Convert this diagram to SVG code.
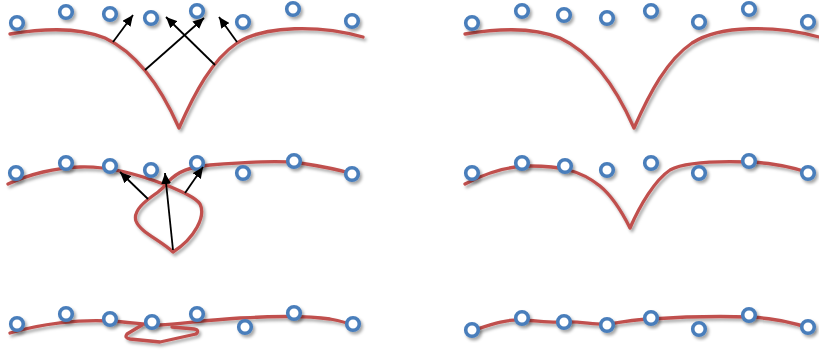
<svg xmlns="http://www.w3.org/2000/svg" width="819" height="350" viewBox="0 0 819 350">
<defs>
<filter id="sh" x="-50%" y="-50%" width="200%" height="200%">
<feDropShadow dx="2" dy="2.5" stdDeviation="1.6" flood-color="#000" flood-opacity="0.35"/>
</filter>
<marker id="ah" markerUnits="userSpaceOnUse" markerWidth="13" markerHeight="10" refX="11" refY="5" orient="auto">
<path d="M0,0 L11,5 L0,10 z" fill="#000"/>
</marker>
<style>
.pt{fill:#fff;stroke:#4a7ebb;stroke-width:3.6;filter:url(#sh)}
.cv{fill:none;stroke:#c0504d;stroke-width:3.3;stroke-linejoin:round;stroke-linecap:round;filter:url(#sh)}
.ar{fill:none;stroke:#000;stroke-width:1.8;marker-end:url(#ah)}
</style>
</defs>
<rect width="819" height="350" fill="#fff"/>

<g id="top-left">
<path class="cv" d="M10,34 C40,29 75,26 105,38 C135,52 160,85 179,128 C195,92 212,60 237,43 C265,25 320,25 363,37"/>
<g id="top-left-points">
<circle class="pt" cx="17" cy="23" r="6.3"/>
<circle class="pt" cx="66" cy="12" r="6.3"/>
<circle class="pt" cx="110" cy="14" r="6.3"/>
<circle class="pt" cx="151" cy="18" r="6.3"/>
<circle class="pt" cx="197" cy="11" r="6.3"/>
<circle class="pt" cx="243" cy="22" r="6.3"/>
<circle class="pt" cx="293" cy="9" r="6.3"/>
<circle class="pt" cx="352" cy="21" r="6.3"/>
</g>
<g id="top-left-arrows">
<line class="ar" x1="113" y1="42" x2="133" y2="15"/>
<line class="ar" x1="145" y1="70" x2="204" y2="18"/>
<line class="ar" x1="215" y1="65" x2="166" y2="17"/>
<line class="ar" x1="237" y1="42" x2="219" y2="17"/>
</g>
</g>

<g id="top-right">
<path class="cv" d="M465,34 C495,29 530,26 560,38 C590,52 615,85 634,128 C650,92 667,60 692,43 C720,25 775,25 819,37"/>
<circle class="pt" cx="472" cy="23" r="6.3"/>
<circle class="pt" cx="522" cy="11" r="6.3"/>
<circle class="pt" cx="564" cy="15" r="6.3"/>
<circle class="pt" cx="607" cy="18" r="6.3"/>
<circle class="pt" cx="651" cy="11" r="6.3"/>
<circle class="pt" cx="699" cy="22" r="6.3"/>
<circle class="pt" cx="749" cy="9" r="6.3"/>
<circle class="pt" cx="808" cy="22" r="6.3"/>
</g>

<g id="middle-left">
<path class="cv" d="M8,184 C30,174 55,168 80,167 C110,166 140,175 166,185 C180,191 195,197 200,204 C206,216 195,238 173,252 C160,240 140,232 136,221 C132,209 150,198 158,192 C162,189 165,186 168,182 C178,171 190,167 210,165 C245,162 280,160 300,163 C320,166 340,170 353,174"/>
<circle class="pt" cx="16" cy="173" r="6.3"/>
<circle class="pt" cx="66" cy="163" r="6.3"/>
<circle class="pt" cx="110" cy="166" r="6.3"/>
<circle class="pt" cx="151" cy="170" r="6.3"/>
<circle class="pt" cx="197" cy="163" r="6.3"/>
<circle class="pt" cx="243" cy="173" r="6.3"/>
<circle class="pt" cx="294" cy="161" r="6.3"/>
<circle class="pt" cx="352" cy="174" r="6.3"/>
<line class="ar" x1="148" y1="199" x2="120" y2="172"/>
<line class="ar" x1="173" y1="250" x2="165" y2="173"/>
<line class="ar" x1="185" y1="193" x2="203" y2="167"/>
</g>

<g id="middle-right">
<path class="cv" d="M465,184 C490,171 510,166 530,166 C560,166 580,170 600,186 C612,196 622,212 630,228 C640,205 655,180 670,170 C685,162 720,161 749,162 C775,163 795,168 810,173"/>
<circle class="pt" cx="472" cy="173" r="6.3"/>
<circle class="pt" cx="522" cy="163" r="6.3"/>
<circle class="pt" cx="565" cy="166" r="6.3"/>
<circle class="pt" cx="607" cy="170" r="6.3"/>
<circle class="pt" cx="651" cy="163" r="6.3"/>
<circle class="pt" cx="699" cy="173" r="6.3"/>
<circle class="pt" cx="749" cy="161" r="6.3"/>
<circle class="pt" cx="808" cy="173" r="6.3"/>
</g>

<g id="bottom-left">
<path class="cv" d="M10,333 C40,324 80,319 110,321 C130,322 145,325 160,325 C180,324 205,320 240,318 C275,316 310,316 330,319 C340,321 348,323 353,325"/>
<path class="cv" d="M142,325 L127,334 Q124,338 130,339 L160,342 L196,334 Q200,330 194,329 L172,327"/>
<circle class="pt" cx="17" cy="324" r="6.3"/>
<circle class="pt" cx="66" cy="314" r="6.3"/>
<circle class="pt" cx="110" cy="319" r="6.3"/>
<circle class="pt" cx="152" cy="322" r="6.3"/>
<circle class="pt" cx="197" cy="314" r="6.3"/>
<circle class="pt" cx="245" cy="327" r="6.3"/>
<circle class="pt" cx="294" cy="313" r="6.3"/>
<circle class="pt" cx="353" cy="324" r="6.3"/>
</g>

<g id="bottom-right">
<path class="cv" d="M468,332 C490,325 505,319 522,320 C540,321 550,323 564,322 C580,321 595,325 607,324 C625,322 635,319 651,319 C680,317 720,316 749,317 C775,318 795,323 812,329"/>
<circle class="pt" cx="472" cy="330" r="6.3"/>
<circle class="pt" cx="522" cy="318" r="6.3"/>
<circle class="pt" cx="564" cy="322" r="6.3"/>
<circle class="pt" cx="607" cy="325" r="6.3"/>
<circle class="pt" cx="651" cy="318" r="6.3"/>
<circle class="pt" cx="699" cy="329" r="6.3"/>
<circle class="pt" cx="749" cy="315" r="6.3"/>
<circle class="pt" cx="808" cy="327" r="6.3"/>
</g>
</svg>
